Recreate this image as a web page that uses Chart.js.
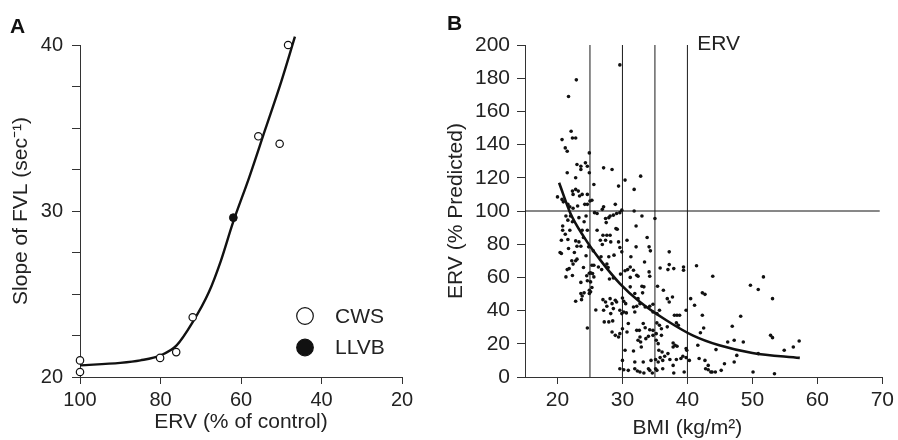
<!DOCTYPE html>
<html>
<head>
<meta charset="utf-8">
<script src="https://cdn.jsdelivr.net/npm/chart.js@4.4.1/dist/chart.umd.min.js"></script>
<style>
    html, body { margin: 0; padding: 0; background: #fff; }
    #wrap { position: relative; width: 898px; height: 440px; overflow: hidden; font-family: "Liberation Sans", Arial, sans-serif; }
    .panel { position: absolute; top: 0; height: 440px; }
    #panelA { left: 0; width: 440px; }
    #panelB { left: 440px; width: 458px; }
    .tag { position: absolute; font-weight: bold; font-size: 21px; line-height: 1; color: #111; }
</style>
</head>
<body>
<div id="wrap">
    <div class="panel" id="panelA"><canvas id="chartA" width="440" height="440"></canvas></div>
    <div class="panel" id="panelB"><canvas id="chartB" width="458" height="440"></canvas></div>
    <div class="tag" style="left:10px;top:15px">A</div>
    <div class="tag" style="left:447px;top:12px">B</div>
</div>
<script>
(function () {
    'use strict';

    // ---- panel A: slope of FVL vs ERV ----
    var cwsErv = [100, 100, 80.1, 76.1, 72.0, 55.7, 50.4, 48.3];
    var cwsSlope = [21.0, 20.3, 21.15, 21.5, 23.6, 34.5, 34.05, 40.0];
    var llvbErv = [61.9];
    var llvbSlope = [29.6];
    var fitErvA = [100, 90, 85, 80, 76, 72, 68, 65, 62, 58, 54, 50, 46.6];
    var fitSlopeA = [20.7, 20.85, 21.0, 21.3, 21.9, 23.3, 25.1, 27.0, 29.3, 32.0, 34.9, 37.8, 40.5];
    var ticksAx = [100, 80, 60, 40, 20];
    var ticksAy = [20, 22.5, 25, 27.5, 30, 32.5, 35, 37.5, 40];
    var labelsAy = [20, 30, 40];

    // ---- panel B: ERV % predicted vs BMI ----
    var bmiUnder25 = [20.0, 20.7, 21.2, 21.5, 21.7, 22.1, 22.3, 22.8, 22.9, 21.5,
        22.8, 23.0, 23.6, 23.6, 24.3, 24.6, 24.9, 24.9, 22.3, 22.8,
        23.2, 22.4, 23.4, 23.8, 24.6, 20.7, 20.9, 21.6, 21.9, 22.4,
        24.2, 24.6, 23.1, 21.3, 21.6, 20.8, 20.8, 21.9, 22.3, 24.1,
        24.6, 23.8, 20.6, 21.6, 22.8, 23.3, 23.0, 23.6, 20.4, 20.6,
        21.7, 22.2, 22.8, 22.4, 23.0, 21.8, 21.5, 21.3, 22.3, 24.8,
        23.6, 23.6, 23.8, 24.1, 23.7, 22.8, 24.6, 24.6, 24.9, 24.9,
        22.0, 23.3, 24.4, 21.2, 24.0, 22.6, 24.4, 24.0, 24.9, 24.5];
    var ervUnder25 = [108.5, 143, 138, 136, 169, 148, 144, 144, 179, 123,
        120, 128, 127, 125, 129, 127, 123, 135, 112, 113,
        112, 110, 109, 110, 110, 107, 105.5, 104, 102.5, 101.7,
        104, 104, 103, 97, 94.5, 91, 88.4, 88.4, 93.5, 93.5,
        88.4, 88.4, 82.4, 82.8, 82, 81.4, 78.8, 78.8, 75, 74.4,
        77.4, 70, 70, 68, 71, 65.3, 64.7, 60.3, 61.1, 78.4,
        57, 50.3, 48.8, 50.7, 46.6, 45.6, 29.5, 58, 50.3, 52.3,
        97, 96, 97, 86, 84, 75, 73, 66, 62.5, 61];
    var bmi25to30 = [25.6, 27.1, 28.4, 29.4, 29.6, 25.3, 25.0, 25.7, 26.1, 26.9,
        27.1, 28.9, 29.1, 29.6, 27.4, 27.9, 28.1, 28.6, 27.5, 26.1,
        27.0, 27.6, 28.1, 29.0, 29.2, 26.6, 27.4, 26.9, 28.2, 29.4,
        29.6, 25.5, 26.7, 27.9, 28.7, 27.6, 27.8, 25.3, 25.6, 26.3,
        26.8, 25.1, 25.4, 25.6, 28.0, 28.6, 29.7, 25.1, 25.3, 25.1,
        25.9, 27.0, 27.4, 27.6, 28.1, 28.4, 28.9, 29.1, 27.1, 27.2,
        27.9, 28.5, 28.2, 28.6, 29.6, 29.9, 30.0, 28.4, 28.9, 29.4,
        29.6];
    var erv25to30 = [116, 126, 125, 115, 188, 106.5, 106, 99, 98.5, 101,
        102.5, 104, 98.5, 99, 95.5, 96, 97, 97.5, 93, 88.4,
        85.4, 85.4, 85.4, 89.4, 89, 82.4, 82.4, 79.8, 81.4, 81.4,
        78, 76, 72.4, 72.4, 73.4, 68, 66, 67.3, 67.3, 66.3,
        64.7, 62.7, 62.3, 60.3, 59, 59.7, 62, 57.3, 53.9, 51.3,
        40.4, 46.6, 45.2, 42.6, 47.2, 44.2, 46.2, 45.2, 40.2, 33.2,
        33.2, 33.8, 38.2, 41.2, 40.2, 38.2, 47.6, 27.1, 25.1, 24.1,
        26.1];
    var bmi30to35 = [30.4, 32.8, 31.8, 31.8, 33.0, 29.9, 32.1, 30.7, 32.1, 31.3,
        33.8, 34.1, 34.3, 29.9, 33.4, 30.4, 30.8, 31.2, 31.7, 32.2,
        32.4, 31.2, 34.1, 34.2, 31.2, 33.0, 33.3, 31.9, 33.1, 32.4,
        30.2, 30.5, 31.7, 32.2, 32.7, 33.5, 34.2, 34.7, 30.2, 30.6,
        31.9, 30.9, 33.2, 33.5, 34.2, 34.7, 32.2, 32.6, 30.0, 30.7,
        32.7, 32.4, 32.8, 33.6, 34.0, 34.7, 32.9, 30.4, 31.7, 30.0,
        31.9, 33.2, 34.4, 29.6, 30.2, 30.9, 31.9, 32.3, 32.7, 33.3,
        34.0, 34.2, 34.6];
    var erv30to35 = [118.6, 121, 113, 100, 97, 100.5, 91, 82.4, 78.4, 72.4,
        84, 78.4, 76, 75.4, 69.3, 64, 64.7, 66.3, 64.3, 61.3,
        60.7, 60, 63.3, 60.7, 54.3, 54.7, 54.3, 50.3, 50.7, 47.2,
        45.6, 44.2, 42.2, 42.6, 44.2, 42.2, 42.6, 43.8, 39.2, 38.6,
        39.2, 32.2, 32.2, 29.7, 28.5, 28.1, 28.1, 28.1, 29.1, 27.1,
        24.1, 22.1, 21.1, 23.1, 24.5, 25.1, 18.1, 16.1, 15.7, 10,
        9, 9, 10, 5, 4.4, 4, 5, 3.6, 3, 2.4,
        5, 4, 2.4];
    var bmi35to40 = [35.0, 35.8, 37.2, 37.2, 37.0, 37.9, 39.4, 39.4, 35.4, 36.3,
        35.7, 35.3, 34.7, 36.9, 37.2, 37.7, 36.9, 38.3, 38.6, 38.0,
        38.4, 38.8, 35.3, 35.7, 36.0, 35.2, 36.0, 35.2, 35.5, 37.8,
        38.1, 37.8, 38.4, 39.8, 39.9, 35.6, 36.1, 37.0, 36.5, 35.8,
        35.1, 35.5, 36.2, 37.3, 38.3, 39.0, 39.3, 39.8, 37.8, 35.1,
        35.3, 36.2, 37.9, 39.5];
    var erv35to40 = [95.5, 65.7, 75.4, 67.7, 64.7, 65.3, 66.3, 64.3, 54.7, 52.3,
        40.2, 38.2, 39.2, 47.2, 45.2, 48.2, 30.2, 32.6, 31.2, 37.2,
        37.2, 37.2, 32.6, 31.2, 29.1, 26.1, 25.1, 22.1, 20.1, 20.5,
        19.1, 18.1, 18.5, 17.1, 16.1, 16.1, 15.1, 14.1, 12.5, 11.7,
        10.5, 9, 10, 10.5, 10.5, 11.1, 12.5, 11.7, 7, 5,
        4, 5, 2.4, 3];
    var bmiOver40 = [39.8, 40.5, 41.1, 41.4, 41.6, 41.8, 40.3, 42.0, 42.3, 42.7,
        42.3, 42.5, 42.7, 43.2, 42.8, 43.2, 43.6, 43.8, 44.3, 43.9,
        44.4, 45.2, 45.7, 46.2, 46.9, 47.2, 47.2, 47.6, 48.2, 48.6,
        49.7, 50.1, 50.9, 50.9, 51.7, 53.1, 52.8, 53.1, 53.4, 54.9,
        56.3, 57.2];
    var ervOver40 = [40.2, 47.2, 43.2, 67, 19.1, 11.1, 10, 26.7, 50.7, 49.8,
        37.2, 29.5, 10, 7, 5, 4.4, 3, 3, 3, 60.7,
        16.5, 4, 8, 21.1, 30.6, 22.1, 9, 13, 36.6, 21.1,
        55.3, 3, 52.7, 14.1, 60.3, 47.2, 25.1, 23.7, 2, 16.1,
        18.1, 21.7];
    var fitBmi = [20.25, 22.0, 24.06, 26.6, 29.6, 32.7, 36.75, 40.8, 44.9, 50.0, 57.3];
    var fitErvB = [117, 98.5, 84.4, 70.4, 56.3, 45.2, 34.2, 25.1, 19.1, 14.5, 11.5];
    var bmiCutoffs = [25, 30, 35, 40];
    var normalErv = 100;
    var ticksBx = [20, 30, 40, 50, 60, 70];
    var ticksBy = [0, 20, 40, 60, 80, 100, 120, 140, 160, 180, 200];

    var fontFamily = '"Liberation Sans", Arial, sans-serif';
    var ink = '#222';
    var axisInk = '#333';

    Chart.defaults.font.family = fontFamily;
    Chart.defaults.color = ink;

    function zip(xs, ys) {
        return xs.map(function (x, i) {
            return { x: x, y: ys[i] };
        });
    }

    function fixedTicks(list) {
        return function (scale) {
            scale.ticks = list.map(function (v) { return { value: v }; });
        };
    }

    var keyPlugin = {
        id: 'keyA',
        afterDatasetsDraw: function (chart) {
            var ctx = chart.ctx;
            var area = chart.chartArea;
            var x = area.left + 225;
            var y = area.top + 271;
            chart.data.datasets.forEach(function (ds) {
                if (!ds.inKey) {
                    return;
                }
                ctx.save();
                ctx.beginPath();
                ctx.arc(x, y, 8.3, 0, Math.PI * 2);
                ctx.fillStyle = ds.pointBackgroundColor;
                ctx.fill();
                ctx.lineWidth = 1.2;
                ctx.strokeStyle = ds.pointBorderColor;
                ctx.stroke();
                ctx.fillStyle = ink;
                ctx.font = '21px ' + fontFamily;
                ctx.textBaseline = 'middle';
                ctx.fillText(ds.label, x + 30, y + 1);
                ctx.restore();
                y += 31.5;
            });
        }
    };

    new Chart(document.getElementById('chartA'), {
        type: 'scatter',
        data: {
            datasets: [{
                label: 'fit',
                data: zip(fitErvA, fitSlopeA),
                showLine: true,
                borderColor: '#111',
                borderWidth: 2.4,
                pointRadius: 0,
                cubicInterpolationMode: 'monotone',
                clip: false,
                order: 3
            }, {
                label: 'CWS',
                inKey: true,
                data: zip(cwsErv, cwsSlope),
                pointRadius: 3.7,
                pointBackgroundColor: '#fff',
                pointBorderColor: '#111',
                pointBorderWidth: 1.2,
                clip: false,
                order: 1
            }, {
                label: 'LLVB',
                inKey: true,
                data: zip(llvbErv, llvbSlope),
                pointRadius: 3.9,
                pointBackgroundColor: '#111',
                pointBorderColor: '#111',
                pointBorderWidth: 1,
                clip: false,
                order: 0
            }]
        },
        options: {
            responsive: false,
            animation: false,
            devicePixelRatio: 1,
            events: [],
            layout: { padding: { left: 0, right: 38, top: 45, bottom: 0 } },
            plugins: { legend: { display: false }, tooltip: { enabled: false } },
            scales: {
                x: {
                    type: 'linear',
                    reverse: true,
                    min: 20,
                    max: 100,
                    afterBuildTicks: fixedTicks(ticksAx),
                    afterFit: function (s) { s.height = 63; },
                    ticks: { font: { size: 20 }, padding: 4, maxRotation: 0, color: ink },
                    grid: { drawOnChartArea: false, tickLength: 7, color: axisInk },
                    border: { color: axisInk, width: 1 },
                    title: { display: true, text: 'ERV (% of control)', font: { size: 21 }, color: ink, padding: { top: 0, bottom: 5 } }
                },
                y: {
                    min: 20,
                    max: 40,
                    afterBuildTicks: fixedTicks(ticksAy),
                    afterFit: function (s) { s.width = 80; },
                    ticks: {
                        font: { size: 20 },
                        padding: 9,
                        color: ink,
                        callback: function (v) { return labelsAy.indexOf(v) >= 0 ? String(v) : ''; }
                    },
                    grid: { drawOnChartArea: false, tickLength: 8, color: axisInk },
                    border: { color: axisInk, width: 1 },
                    title: { display: true, text: 'Slope of FVL (sec\u207B\u00B9)', font: { size: 21 }, color: ink, padding: { top: 9, bottom: 0 } }
                }
            }
        },
        plugins: [keyPlugin]
    });

    var notesPlugin = {
        id: 'notesB',
        afterDraw: function (chart) {
            var ctx = chart.ctx;
            var area = chart.chartArea;
            var xs = chart.scales.x;
            ctx.save();
            ctx.fillStyle = ink;
            ctx.font = '21px ' + fontFamily;
            ctx.textAlign = 'left';
            ctx.textBaseline = 'alphabetic';
            ctx.fillText('ERV', xs.getPixelForValue(41.5), area.top + 5);
            ctx.textAlign = 'center';
            ctx.textBaseline = 'middle';
            ctx.fillText('BMI (kg/m\u00B2)', xs.getPixelForValue(40), area.bottom + 51);
            ctx.restore();
        }
    };

    var bmiAll = bmiUnder25.concat(bmi25to30, bmi30to35, bmi35to40, bmiOver40);
    var ervAll = ervUnder25.concat(erv25to30, erv30to35, erv35to40, ervOver40);

    var datasetsB = bmiCutoffs.map(function (c) {
        return {
            label: 'BMI ' + c,
            data: [{ x: c, y: 0 }, { x: c, y: 200 }],
            showLine: true,
            borderColor: '#1a1a1a',
            borderWidth: 1,
            pointRadius: 0,
            clip: false,
            order: 4
        };
    });
    datasetsB.push({
        label: 'normal',
        data: [{ x: 15, y: normalErv }, { x: 69.6, y: normalErv }],
        showLine: true,
        borderColor: '#111',
        borderWidth: 1,
        pointRadius: 0,
        clip: false,
        order: 4
    });
    datasetsB.push({
        label: 'fit',
        data: zip(fitBmi, fitErvB),
        showLine: true,
        borderColor: '#111',
        borderWidth: 2.6,
        pointRadius: 0,
        cubicInterpolationMode: 'monotone',
        order: 1
    });
    datasetsB.push({
        label: 'subjects',
        data: zip(bmiAll, ervAll),
        pointRadius: 1.8,
        pointBackgroundColor: '#111',
        pointBorderWidth: 0,
        clip: false,
        order: 0
    });

    new Chart(document.getElementById('chartB'), {
        type: 'scatter',
        data: { datasets: datasetsB },
        options: {
            responsive: false,
            animation: false,
            devicePixelRatio: 1,
            events: [],
            layout: { padding: { left: 0, right: 13, top: 45, bottom: 0 } },
            plugins: { legend: { display: false }, tooltip: { enabled: false } },
            scales: {
                x: {
                    type: 'linear',
                    min: 15,
                    max: 70,
                    afterBuildTicks: fixedTicks(ticksBx),
                    afterFit: function (s) { s.height = 63; },
                    ticks: { font: { size: 21 }, padding: 4, maxRotation: 0, color: ink },
                    grid: { drawOnChartArea: false, tickLength: 7, color: axisInk },
                    border: { color: axisInk, width: 1, dash: [5, 3] },
                    title: { display: false }
                },
                y: {
                    min: 0,
                    max: 200,
                    afterBuildTicks: fixedTicks(ticksBy),
                    afterFit: function (s) { s.width = 85; },
                    ticks: { font: { size: 21 }, padding: 7, color: ink },
                    grid: { drawOnChartArea: false, tickLength: 8, color: axisInk },
                    border: { color: axisInk, width: 1, dash: [5, 3] },
                    title: { display: true, text: 'ERV (% Predicted)', font: { size: 21 }, color: ink, padding: { top: 4, bottom: 0 } }
                }
            }
        },
        plugins: [notesPlugin]
    });
})();
</script>
</body>
</html>
